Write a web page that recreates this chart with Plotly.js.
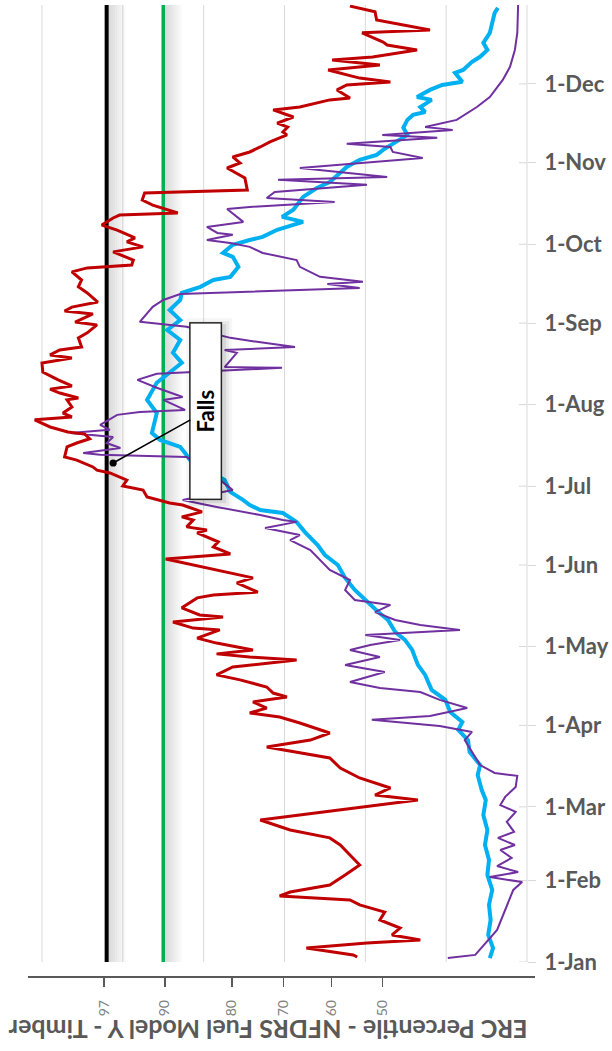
<!DOCTYPE html>
<html><head><meta charset="utf-8">
<script src="https://cdn.plot.ly/plotly-3.0.1.min.js"></script>
<style>html,body{margin:0;padding:0;background:#fff}#chart{width:612px;height:1051px}</style>
</head><body><div id="chart"></div>
<script>
const YEAR = 2021;
const monthTickDays = [0,31,59,90,120,151,181,212,243,273,304,334];
const monthTickLabels = ['1-Jan','1-Feb','1-Mar','1-Apr','1-May','1-Jun','1-Jul','1-Aug','1-Sep','1-Oct','1-Nov','1-Dec'];
const pctLabels = ['97','90','80','70','60','50'];
const pctErc = [52.3,44.8,36.5,30.1,24.2,17.9];
const gridErc = [0,10,20,30,40,50,60];
const threshold97 = 52.0;
const threshold90 = 45.0;
const axisTitle = 'ERC Percentile - NFDRS Fuel Model Y - Timber';
const fallsLabel = 'Falls';
const fallsDay = 189.8;
const fallsErc = 51.2;

const redDays = [1.9,2.7,5.3,7.2,8.4,10.3,12.9,16.0,19.0,21.7,23.6,25.1,26.6,29.3,33.1,36.9,40.7,44.5,47.2,50.2,54.0,55.9,57.8,61.6,63.5,66.2,70.0,73.8,77.6,79.5,81.8,84.4,87.1,90.9,93.2,94.7,96.6,98.9,100.8,102.3,104.6,107.3,109.2,112.2,114.9,116.0,117.2,118.7,121.3,123.2,126.3,127.0,129.3,131.2,132.0,134.7,138.5,139.6,140.7,144.2,146.1,153.3,155.2,157.9,159.8,163.2,164.3,165.5,168.1,169.3,171.2,173.8,174.6,176.9,179.5,181.1,183.3,186.0,187.1,188.3,190.9,192.1,195.9,197.4,199.0,200.8,201.6,203.5,206.2,207.3,208.8,211.1,213.8,214.5,216.4,217.9,219.1,221.4,224.4,227.8,229.7,230.9,232.8,233.9,237.4,239.3,242.3,243.4,246.5,247.6,249.1,251.0,254.5,256.8,259.4,262.5,264.0,265.1,267.0,270.1,272.0,273.9,275.4,278.4,280.3,283.0,284.1,284.9,287.9,289.8,292.5,293.6,298.2,302.0,303.9,306.2,308.1,310.0,311.9,314.6,315.7,317.6,319.1,321.4,324.1,325.2,327.9,328.6,331.7,333.6,334.7,336.2,339.3,341.2,343.1,344.2,346.9,348.8,349.9,353.4,354.5,358.3,361.4,363.6];
const redErc = [21.0,21.5,27.3,19.8,13.2,16.7,15.7,18.2,17.6,20.7,21.9,30.6,29.3,24.4,22.5,20.7,21.9,23.1,24.4,29.3,33.0,28.1,23.1,13.5,18.8,16.9,20.7,23.1,24.4,28.1,32.2,26.8,24.4,28.1,30.6,34.3,32.2,33.9,29.7,31.4,32.2,35.5,38.4,36.4,28.5,34.3,38.4,33.9,38.4,40.8,38.0,41.3,43.8,37.6,40.5,42.7,40.8,38.8,33.3,35.9,33.9,44.7,36.7,38.8,38.2,40.8,39.6,42.1,41.3,42.7,40.2,42.6,44.2,47.0,47.5,50.0,49.5,51.6,53.2,53.7,55.7,57.2,56.9,55.7,54.1,54.7,56.8,59.0,60.9,56.3,57.4,56.3,56.9,55.5,57.8,59.0,56.3,58.0,59.9,60.0,56.3,59.0,57.8,55.1,55.5,54.4,53.2,55.9,53.7,57.2,56.3,53.1,54.4,55.5,55.1,56.3,54.4,48.9,48.7,51.2,47.5,49.5,48.5,50.7,52.6,51.2,50.4,43.2,46.3,47.6,47.3,34.6,34.9,37.1,35.5,36.4,34.3,33.0,31.8,29.7,30.2,29.6,30.9,28.9,31.4,28.1,24.4,21.9,23.5,22.3,16.9,20.7,24.6,18.2,24.1,19.1,13.6,17.3,17.8,20.4,12.0,18.6,18.8,21.9];

const blueDays = [1.5,5.3,10.3,16.0,21.7,27.4,33.1,38.8,44.5,50.2,55.9,61.6,65.4,71.1,74.9,79.9,84.4,88.3,91.3,95.1,99.7,103.5,109.2,113.0,118.7,122.5,125.5,130.1,133.1,137.7,141.5,146.1,151.0,154.8,158.6,163.6,167.4,170.8,171.9,173.8,175.7,178.8,183.3,187.2,191.0,193.6,195.9,198.6,201.2,208.8,213.8,220.3,227.9,231.7,236.6,240.4,244.2,248.0,251.8,254.5,256.8,259.4,260.6,264.4,268.2,269.7,272.8,274.6,275.8,278.5,281.5,283.4,286.1,291.0,294.4,296.7,300.1,302.4,305.1,307.0,308.9,314.6,317.3,320.3,322.2,323.3,325.2,327.9,329.0,331.7,333.6,334.8,338.2,339.3,342.4,344.3,346.9,349.6,353.4,361.0,362.9];
const blueErc = [4.6,4.2,4.8,4.5,4.7,4.3,4.9,4.7,5.2,4.9,5.4,5.1,5.6,6.1,5.8,7.1,7.3,8.5,8.0,9.5,10.1,11.8,12.6,13.5,14.2,15.1,16.3,17.2,18.4,20.0,21.3,22.5,23.4,25.0,25.9,27.5,28.5,30.2,33.0,34.3,35.1,36.7,37.4,39.8,41.7,42.3,42.9,45.4,46.4,45.8,47.0,45.8,42.7,43.8,42.9,44.5,42.9,44.2,42.9,42.7,40.4,38.8,36.7,35.7,36.4,37.6,36.4,34.3,32.7,30.9,27.7,30.3,28.9,27.7,26.0,24.4,23.1,22.3,20.7,18.6,17.8,14.8,15.3,14.8,14.1,12.6,13.2,11.8,13.6,12.0,10.5,8.0,8.9,7.9,6.8,5.8,4.9,5.4,4.6,4.0,3.6];

const purpleDays = [1.5,2.7,12.2,21.7,27.4,30.4,32.3,34.2,36.5,39.6,42.6,44.5,47.2,49.5,53.3,57.1,59.7,62.8,66.6,70.8,71.9,74.9,79.9,84.4,87.5,89.8,92.1,93.6,96.6,99.7,102.7,104.2,106.5,110.3,113.0,116.0,118.7,120.6,122.5,124.4,126.3,128.2,130.1,133.1,135.8,137.7,141.5,145.3,149.1,152.9,156.7,160.5,162.4,165.1,167.4,168.1,170.0,173.1,175.7,179.5,182.6,192.1,192.9,193.6,195.5,197.4,199.7,201.2,202.4,204.3,208.1,209.2,210.0,213.8,214.9,218.4,221.4,223.7,224.8,226.0,226.3,231.7,232.8,233.9,235.9,237.4,241.6,243.5,249.2,251.8,254.1,256.4,257.9,258.7,260.6,264.4,267.0,269.7,272.0,273.5,274.6,276.6,277.3,279.6,281.5,284.9,286.4,287.2,289.1,290.6,292.9,295.6,297.5,298.6,302.0,305.8,308.1,310.0,311.2,313.5,314.6,316.5,317.6,320.3,325.2,329.0,335.5,340.5,346.9,353.4,364.0];
const purpleErc = [9.8,6.4,3.7,2.5,1.7,0.6,4.6,1.1,3.7,1.9,3.3,1.5,3.6,1.6,2.5,1.4,3.3,2.7,1.4,1.2,4.0,5.8,6.8,7.7,6.8,10.8,19.2,12.0,7.4,10.8,13.2,18.2,21.9,17.6,22.5,18.2,21.9,19.4,15.7,20.0,8.3,13.2,16.3,18.8,16.9,21.3,22.5,21.9,24.4,25.6,26.8,29.3,28.1,32.4,28.5,30.2,33.0,38.4,42.6,36.4,37.7,42.1,52.8,54.9,50.3,52.0,51.2,56.5,51.6,52.8,50.7,47.9,42.3,45.0,42.6,45.8,48.2,45.8,37.4,30.3,37.4,35.9,37.4,28.7,33.4,36.7,42.1,47.9,46.3,45.0,42.9,20.7,24.7,20.3,25.6,28.1,28.5,32.7,34.3,36.7,39.6,36.4,38.3,39.6,35.1,36.4,37.1,34.3,23.8,32.2,31.2,19.8,30.8,17.3,28.1,12.9,16.6,16.9,22.3,11.1,17.9,9.2,12.6,8.7,6.2,4.6,3.0,2.1,1.5,1.2,1.1];

function dayToDate(d) {
  const dt = new Date(Date.UTC(YEAR, 0, 1) + d * 86400000);
  return dt.toISOString().slice(0, 16).replace('T', ' ');
}
const yStart = dayToDate(0), yEnd = dayToDate(364);

const traces = [
  {x:[threshold97, threshold97], y:[yStart, yEnd], mode:'lines', line:{color:'#000000', width:4}, hoverinfo:'skip'},
  {x:[threshold90, threshold90], y:[yStart, yEnd], mode:'lines', line:{color:'#00b050', width:3.5}, hoverinfo:'skip'},
  {x:blueErc, y:blueDays.map(dayToDate), mode:'lines', line:{color:'#00b0f0', width:4}},
  {x:purpleErc, y:purpleDays.map(dayToDate), mode:'lines', line:{color:'#7030a0', width:2}},
  {x:redErc, y:redDays.map(dayToDate), mode:'lines', line:{color:'#c00000', width:3}}
];

const shapes = [];
gridErc.forEach(g => shapes.push({type:'line', xref:'x', yref:'y domain', x0:g, x1:g, y0:0, y1:1, line:{color:'#d9d9d9', width:1}, layer:'below'}));
monthTickDays.forEach(d => shapes.push({type:'line', xref:'x', yref:'y', x0:0, x1:1, y0:dayToDate(d), y1:dayToDate(d), line:{color:'#d9d9d9', width:1}, layer:'below'}));
[threshold97, threshold90].forEach(v => {
  const n = 9, step = 0.26;
  for (let i = 0; i < n; i++) {
    shapes.push({type:'rect', xref:'x', yref:'y domain', x0:v - i*step, x1:v - (i+1)*step, y0:0, y1:1,
      fillcolor:'rgba(0,0,0,' + (0.16*(1 - i/n)).toFixed(3) + ')', line:{width:0}, layer:'below'});
  }
});

const boxBase = {x:fallsErc, y:dayToDate(fallsDay), xref:'x', yref:'y', textangle:-90, showarrow:true,
  ax:93, ay:-52, width:173, height:28, standoff:0};
const annotations = [];
[[9,0.035],[6,0.05],[3,0.08]].forEach(([pad, a]) => {
  annotations.push(Object.assign({}, boxBase, {text:'<b>' + fallsLabel + '</b>', font:{family:'Lato', size:22, color:'rgba(0,0,0,0)'},
    bgcolor:'rgba(0,0,0,' + a + ')', borderpad:pad, borderwidth:0, arrowcolor:'rgba(0,0,0,0)', xshift:3, yshift:-3}));
});
annotations.push(Object.assign({}, boxBase, {text:'<b>' + fallsLabel + '</b>', font:{family:'Lato', size:22, color:'#000'},
  bgcolor:'#ffffff', bordercolor:'#262626', borderwidth:1.5, borderpad:1, arrowhead:6, arrowsize:1.2, arrowwidth:1.5, arrowcolor:'#000'}));
annotations.push({text:'<b>' + axisTitle + '</b>', xref:'paper', yref:'paper', x:0.473, y:-0.0556,
  xanchor:'center', yanchor:'middle', textangle:180,
  showarrow:false, font:{family:'Lato', size:25, color:'#595959'}});

const layout = {
  width:612, height:1051, margin:{l:28, r:77, t:5, b:75, pad:0},
  paper_bgcolor:'#ffffff', plot_bgcolor:'rgba(0,0,0,0)', showlegend:false,
  xaxis:{range:[61.73, -0.99], anchor:'free', position:0, showgrid:false, zeroline:false,
    showline:true, linecolor:'#595959', linewidth:1.5, ticks:'outside', ticklen:9, tickwidth:1.5, tickcolor:'#595959',
    tickmode:'array', tickvals:pctErc, ticktext:pctLabels, tickangle:-90, ticklabelstandoff:8,
    tickfont:{family:'Lato', size:14, color:'#7f7f7f'}},
  yaxis:{domain:[0.01442, 1], type:'date', range:[yStart, yEnd], side:'right', anchor:'free', position:0.98422,
    showgrid:false, zeroline:false, showline:false, ticks:'outside', ticklen:8, tickcolor:'#d9d9d9',
    tickmode:'array', tickvals:monthTickDays.map(dayToDate), ticktext:monthTickLabels, ticklabelstandoff:4,
    tickfont:{family:'Lato', size:22, color:'#595959', weight:700}},
  shapes:shapes, annotations:annotations
};
Plotly.newPlot('chart', traces, layout, {displayModeBar:false, staticPlot:true});
</script></body></html>
